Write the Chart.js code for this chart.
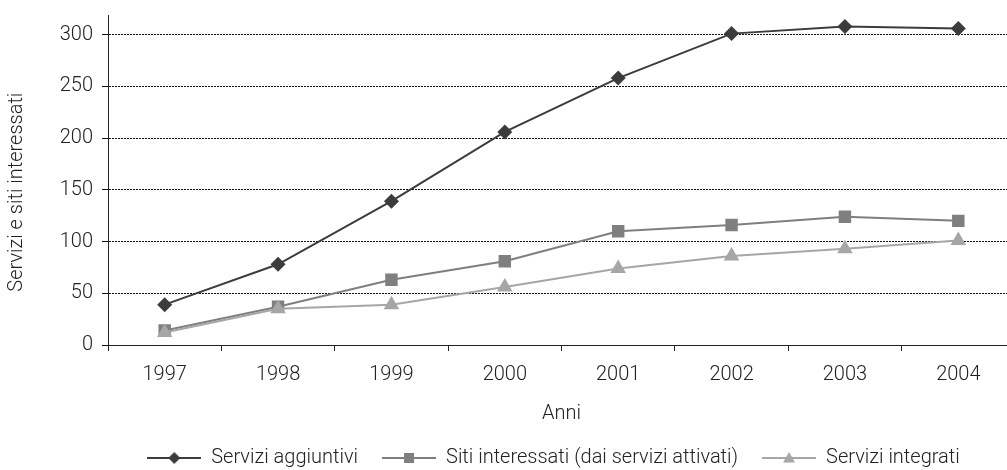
<!DOCTYPE html>
<html>
<head>
<meta charset="utf-8">
<script src="https://cdn.jsdelivr.net/npm/chart.js@4/dist/chart.umd.min.js"></script>
<style>
  html, body { margin: 0; padding: 0; background: #fff; overflow: hidden; }
  #wrap { width: 1024px; height: 470px; }
</style>
</head>
<body>
<div id="wrap"><canvas id="chart" width="1024" height="470"></canvas></div>
<script>
// anni e valori
const anni = ['1997', '1998', '1999', '2000', '2001', '2002', '2003', '2004'];
const serviziAggiuntivi = [39, 78, 139, 206, 258, 301, 308, 306];
const sitiInteressati = [14, 37, 63, 81, 110, 116, 124, 120];
const serviziIntegrati = [12, 35, 39, 56, 74, 86, 93, 101];
const yTicks = [0, 50, 100, 150, 200, 250, 300];

const FONT = { family: 'Roboto, "Liberation Sans", sans-serif', size: 20, weight: '300' };
const TEXT = '#222';

// piccola icona linea + marcatore per la legenda
function legendIcon(color, style, r) {
    const c = document.createElement('canvas');
    c.width = 54; c.height = 18;
    const g = c.getContext('2d');
    g.strokeStyle = color; g.lineWidth = 2;
    g.beginPath(); g.moveTo(0, 9); g.lineTo(54, 9); g.stroke();
    g.fillStyle = color;
    g.beginPath();
    if (style === 'rectRot') {
        g.moveTo(27, 9 - r); g.lineTo(27 + r, 9); g.lineTo(27, 9 + r); g.lineTo(27 - r, 9);
    } else if (style === 'rect') {
        g.rect(27 - r, 9 - r, 2 * r, 2 * r);
    } else {
        g.moveTo(27, 9 - r); g.lineTo(27 + r, 9 + r * 0.75); g.lineTo(27 - r, 9 + r * 0.75);
    }
    g.closePath(); g.fill();
    return c;
}

const series = [
    { label: 'Servizi aggiuntivi', data: serviziAggiuntivi, color: '#3c3c3c', style: 'rectRot', r: 7.5, order: 2, icon: 6 },
    { label: 'Siti interessati (dai servizi attivati)', data: sitiInteressati, color: '#7f7f7f', style: 'rect', r: 8.8, order: 1, icon: 5 },
    { label: 'Servizi integrati', data: serviziIntegrati, color: '#a6a6a6', style: 'triangle', r: 9, order: 0, icon: 6 }
];

// sposta la legenda come nell'originale
const legendShift = {
    id: 'legendShift',
    afterLayout(chart) {
        const lg = chart.legend;
        lg.left += 83;
        lg.top += 8;
        lg.bottom += 8;
    }
};

new Chart(document.getElementById('chart'), {
    type: 'line',
    data: {
        labels: anni,
        datasets: series.map(s => ({
            label: s.label,
            data: s.data,
            borderColor: s.color,
            backgroundColor: s.color,
            borderWidth: 2,
            pointStyle: s.style,
            pointRadius: s.r,
            pointBorderWidth: 0,
            pointBackgroundColor: s.color,
            tension: 0,
            order: s.order
        }))
    },
    plugins: [legendShift],
    options: {
        responsive: false,
        animation: false,
        layout: { padding: { top: 15, right: 0, bottom: 0, left: 0 } },
        plugins: {
            tooltip: { enabled: false },
            legend: {
                position: 'bottom',
                labels: {
                    color: TEXT,
                    font: FONT,
                    usePointStyle: true,
                    pointStyleWidth: 54,
                    padding: 24,
                    generateLabels: () => series.map((s, i) => ({
                        text: s.label,
                        pointStyle: legendIcon(s.color, s.style, s.icon),
                        fillStyle: s.color,
                        strokeStyle: s.color,
                        lineWidth: 0,
                        datasetIndex: i,
                        fontColor: TEXT
                    }))
                }
            }
        },
        scales: {
            x: {
                offset: true,
                grid: { display: true, offset: true, drawOnChartArea: false, color: '#222', tickLength: 6 },
                border: { color: '#222', width: 1 },
                ticks: { color: TEXT, font: FONT, padding: 12 },
                title: { display: true, text: 'Anni', color: TEXT, font: FONT, padding: { top: 0, bottom: -9.5 } },
                afterFit: s => { s.height = 71; }
            },
            y: {
                min: 0,
                max: 319,
                afterBuildTicks: s => { s.ticks = yTicks.map(v => ({ value: v })); },
                grid: { color: '#111', lineWidth: 1, tickLength: 6 },
                border: { color: '#222', width: 1, dash: [2, 1] },
                ticks: { color: TEXT, font: FONT, padding: 9 },
                title: { display: true, text: 'Servizi e siti interessati     ', color: TEXT, font: FONT, padding: { top: 5, bottom: 0 } },
                afterFit: s => { s.width = 108; s.paddingTop = 0; s.paddingBottom = 0; }
            }
        }
    }
});
</script>
</body>
</html>
